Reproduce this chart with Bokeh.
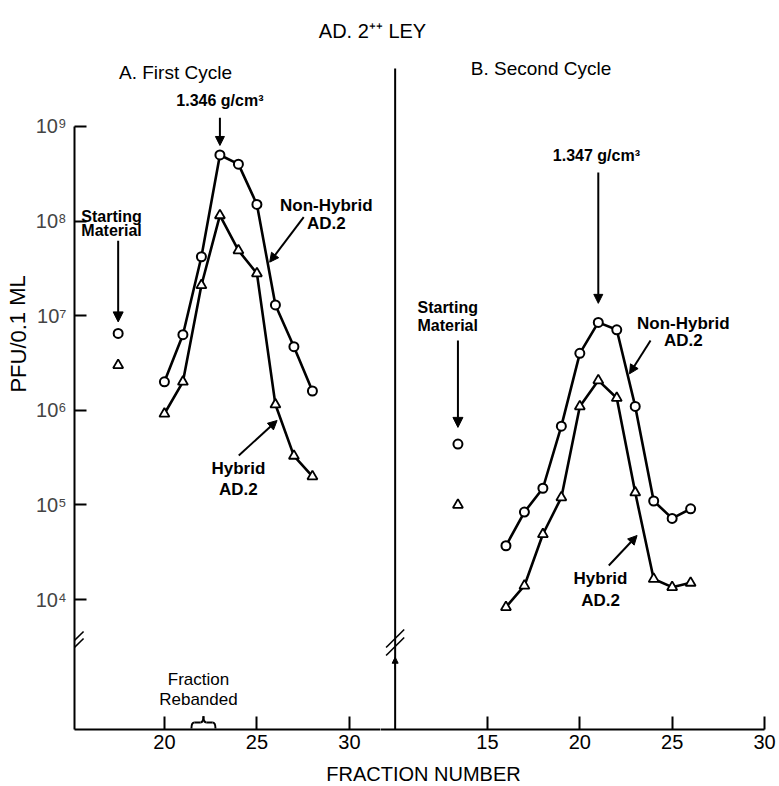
import math
from bokeh.plotting import figure
from bokeh.layouts import column, row
from bokeh.models import (Range1d, FixedTicker, CustomJSTickFormatter, Arrow,
                          NormalHead, Label)
from bokeh.embed import file_html
from bokeh.resources import INLINE
from bokeh.core.properties import value

# ---------------- data ----------------
fractions_A = [20, 21, 22, 23, 24, 25, 26, 27, 28]
nonhybrid_A = [2.0e6, 6.3e6, 4.2e7, 5.0e8, 4.0e8, 1.5e8, 1.3e7, 4.7e6, 1.6e6]
hybrid_A = [9.2e5, 2.0e6, 2.1e7, 1.15e8, 4.9e7, 2.8e7, 1.15e6, 3.3e5, 2.0e5]
start_x_A = 17.5
start_nonhybrid_A = 6.5e6
start_hybrid_A = 3.0e6

fractions_B = [16, 17, 18, 19, 20, 21, 22, 23, 24, 25, 26]
nonhybrid_B = [3.7e4, 8.4e4, 1.5e5, 6.8e5, 4.0e6, 8.5e6, 7.1e6, 1.1e6, 1.1e5, 7.2e4, 9.1e4]
hybrid_B = [8.3e3, 1.4e4, 4.9e4, 1.2e5, 1.1e6, 2.07e6, 1.35e6, 1.35e5, 1.65e4, 1.35e4, 1.5e4]
start_x_B = 13.4
start_nonhybrid_B = 4.4e5
start_hybrid_B = 1.0e5

y_ticks = [1e4, 1e5, 1e6, 1e7, 1e8, 1e9]
x_ticks_A = [20, 25, 30]
x_ticks_B = [15, 20, 25, 30]
rebanded_span = [21.46, 22.76]

# ---------------- style / layout ----------------
FONT = "Liberation Sans"
Y_LO, Y_HI = 10 ** 2.626, 10 ** 9.761
PANEL_H = 703
W_Y, W_A, W_B = 30, 350, 396
TOP_H, BOT_H = 54, 29


def base_fig(width, xr, left, right, yaxis):
    p = figure(width=width, height=PANEL_H, x_range=Range1d(*xr),
               y_range=Range1d(Y_LO, Y_HI), y_axis_type="log",
               y_axis_location="left" if yaxis else None,
               output_backend="svg", toolbar_location=None, title=None,
               min_border_left=left, min_border_right=right,
               min_border_top=0, min_border_bottom=28)
    p.outline_line_color = None
    p.grid.visible = False
    p.background_fill_color = "white"
    p.border_fill_color = "white"
    return p


def style_xaxis(p, ticks):
    ax = p.xaxis[0]
    ax.ticker = FixedTicker(ticks=ticks, minor_ticks=[])
    ax.axis_line_width = 2
    ax.major_tick_line_width = 2
    ax.major_tick_in = 13
    ax.major_tick_out = 0
    ax.minor_tick_line_color = None
    ax.major_label_text_font = FONT
    ax.major_label_text_font_size = "20px"
    ax.major_label_standoff = 5
    ax.major_label_text_color = "black"


def lbl(p, x, y, text, size="17px", bold=True, align="center"):
    p.add_layout(Label(x=x, y=y, text=text, text_font=FONT,
                       text_font_size=size,
                       text_font_style="bold" if bold else "normal",
                       text_align=align, text_baseline="middle",
                       text_color="black"))


def arrow(p, x0, y0, x1, y1, head=9, lw=2):
    end = NormalHead(size=head, fill_color="black", line_color="black",
                     line_width=1) if head else None
    p.add_layout(Arrow(x_start=x0, y_start=y0, x_end=x1, y_end=y1, end=end,
                       line_width=lw, line_color="black"))


def break_mark(p, xc, yc, dx=0.49, dlog=0.095):
    arrow(p, xc - dx, yc / 10 ** dlog, xc + dx, yc * 10 ** dlog, head=None, lw=1.6)


def series(p, xs, circ, tri):
    p.line(xs, circ, line_width=2.6, line_color="black")
    p.line(xs, tri, line_width=2.6, line_color="black")
    p.scatter(xs, circ, marker="circle", size=9, line_width=2,
              line_color="black", fill_color="white")
    p.scatter(xs, tri, marker="triangle", size=10, line_width=1.8,
              line_color="black", fill_color="white")


# ---------------- panel A ----------------
pA = base_fig(W_A, (15.14, 31.68), 44, 0, True)
style_xaxis(pA, x_ticks_A)
ya = pA.yaxis[0]
ya.ticker = FixedTicker(ticks=y_ticks, minor_ticks=[])
ya.bounds = (Y_LO, 1e9)
ya.axis_line_width = 2
ya.major_tick_line_width = 2
ya.major_tick_in = 12
ya.major_tick_out = 0
ya.minor_tick_line_color = None
ya.major_label_text_font = FONT
ya.major_label_text_font_size = "20px"
ya.major_label_standoff = 8
ya.formatter = CustomJSTickFormatter(code="""
const s = {"4":"\u2074","5":"\u2075","6":"\u2076","7":"\u2077","8":"\u2078","9":"\u2079"};
const e = Math.round(Math.log10(tick));
return "10" + (s[e] || e);
""")

series(pA, fractions_A, nonhybrid_A, hybrid_A)
pA.scatter([start_x_A], [start_nonhybrid_A], marker="circle", size=9,
           line_width=2, line_color="black", fill_color="white")
pA.scatter([start_x_A], [start_hybrid_A], marker="triangle", size=10,
           line_width=1.8, line_color="black", fill_color="white")

lbl(pA, 20.6, 3.73e9, "A. First Cycle", size="19px", bold=False)
lbl(pA, 23.0, 1.88e9, "1.346 g/cm\u00b3", size="16px")
arrow(pA, 23.0, 1.24e9, 23.0, 6.3e8)
lbl(pA, 15.51, 1.12e8, "Starting", size="16px", align="left")
lbl(pA, 15.51, 7.9e7, "Material", size="16px", align="left")
arrow(pA, start_x_A, 6.2e7, start_x_A, 8.6e6, head=10)
lbl(pA, 28.75, 1.46e8, "Non-Hybrid")
lbl(pA, 28.75, 9.5e7, "AD.2")
arrow(pA, 27.53, 1.1e8, 25.69, 3.68e7)
lbl(pA, 24.0, 2.43e5, "Hybrid")
lbl(pA, 24.0, 1.46e5, "AD.2")
arrow(pA, 24.02, 3.33e5, 26.09, 7.8e5)
lbl(pA, 21.84, 1.43e3, "Fraction", bold=False)
lbl(pA, 21.84, 8.8e2, "Rebanded", bold=False)

# brace marking the rebanded fractions
bx0, bx1 = rebanded_span
bxm = (bx0 + bx1) / 2
yb0, yb1, yb2 = 10 ** 2.636, 10 ** 2.70, 10 ** 2.765
w = 0.16
pA.quadratic(x0=[bx0, bxm - w, bxm + w, bx1],
             y0=[yb0, yb1, yb1, yb0],
             x1=[bx0 + w, bxm, bxm, bx1 - w],
             y1=[yb1, yb2, yb2, yb1],
             cx=[bx0, bxm, bxm, bx1],
             cy=[yb1, yb1, yb1, yb1],
             line_width=2, line_color="black")
pA.segment(x0=[bx0 + w, bxm + w], y0=[yb1, yb1], x1=[bxm - w, bx1 - w],
           y1=[yb1, yb1], line_width=2, line_color="black")

break_mark(pA, 15.14, 10 ** 3.567)
break_mark(pA, 15.14, 10 ** 3.493)

# ---------------- panel B ----------------
pB = base_fig(W_B, (9.207, 30.0), 0, 12, False)
style_xaxis(pB, x_ticks_B)

series(pB, fractions_B, nonhybrid_B, hybrid_B)
pB.scatter([start_x_B], [start_nonhybrid_B], marker="circle", size=9,
           line_width=2, line_color="black", fill_color="white")
pB.scatter([start_x_B], [start_hybrid_B], marker="triangle", size=10,
           line_width=1.8, line_color="black", fill_color="white")

# divider line between the panels
arrow(pB, 10.0, 4.1e9, 10.0, Y_LO, head=None, lw=2)
break_mark(pB, 10.0, 10 ** 3.588)
break_mark(pB, 10.0, 10 ** 3.503)
arrow(pB, 10.0, 10 ** 3.26, 10.0, 10 ** 3.39, head=6, lw=1.5)

lbl(pB, 17.9, 4.1e9, "B. Second Cycle", size="19px", bold=False)
lbl(pB, 20.9, 4.9e8, "1.347 g/cm\u00b3", size="16px")
arrow(pB, 21.0, 3.27e8, 21.0, 1.35e7)
lbl(pB, 11.21, 1.23e7, "Starting", size="16px", align="left")
lbl(pB, 11.21, 7.9e6, "Material", size="16px", align="left")
arrow(pB, start_x_B, 5.47e6, start_x_B, 6.6e5, head=10)
lbl(pB, 25.6, 8.2e6, "Non-Hybrid")
lbl(pB, 25.6, 5.5e6, "AD.2")
arrow(pB, 23.83, 5.47e6, 22.69, 2.43e6)
lbl(pB, 21.12, 1.67e4, "Hybrid")
lbl(pB, 21.12, 9.75e3, "AD.2")
arrow(pB, 21.57, 2.29e4, 23.1, 4.75e4)

# ---------------- text strips (title, y label, x label) ----------------
TOTAL_W = W_Y + W_A + W_B


def strip(w, h):
    s = figure(width=w, height=h, x_range=Range1d(0, w),
               y_range=Range1d(0, h), x_axis_location=None,
               y_axis_location=None, output_backend="svg",
               toolbar_location=None, title=None, min_border=0)
    s.outline_line_color = None
    s.grid.visible = False
    return s


top = strip(TOTAL_W, TOP_H)
top.text(x=[372], y=[TOP_H - 30], text=["AD. 2\u207a\u207a LEY"],
         text_font=value(FONT), text_font_size="20px", text_align="center",
         text_baseline="middle", text_color="black")

yl = strip(W_Y, PANEL_H)
yl.text(x=[17.5], y=[PANEL_H - (345 - TOP_H)], text=["PFU/0.1 ML"],
        angle=[math.pi / 2], text_font=value(FONT), text_font_size="22px",
        text_align="center", text_baseline="middle", text_color="black")

bottom = strip(TOTAL_W, BOT_H)
bottom.text(x=[423], y=[13], text=["FRACTION NUMBER"], text_font=value(FONT),
            text_font_size="20px", text_align="center", text_baseline="middle",
            text_color="black")

layout = column(top, row(yl, pA, pB), bottom)
open("out.html", "w").write(file_html(layout, INLINE))
